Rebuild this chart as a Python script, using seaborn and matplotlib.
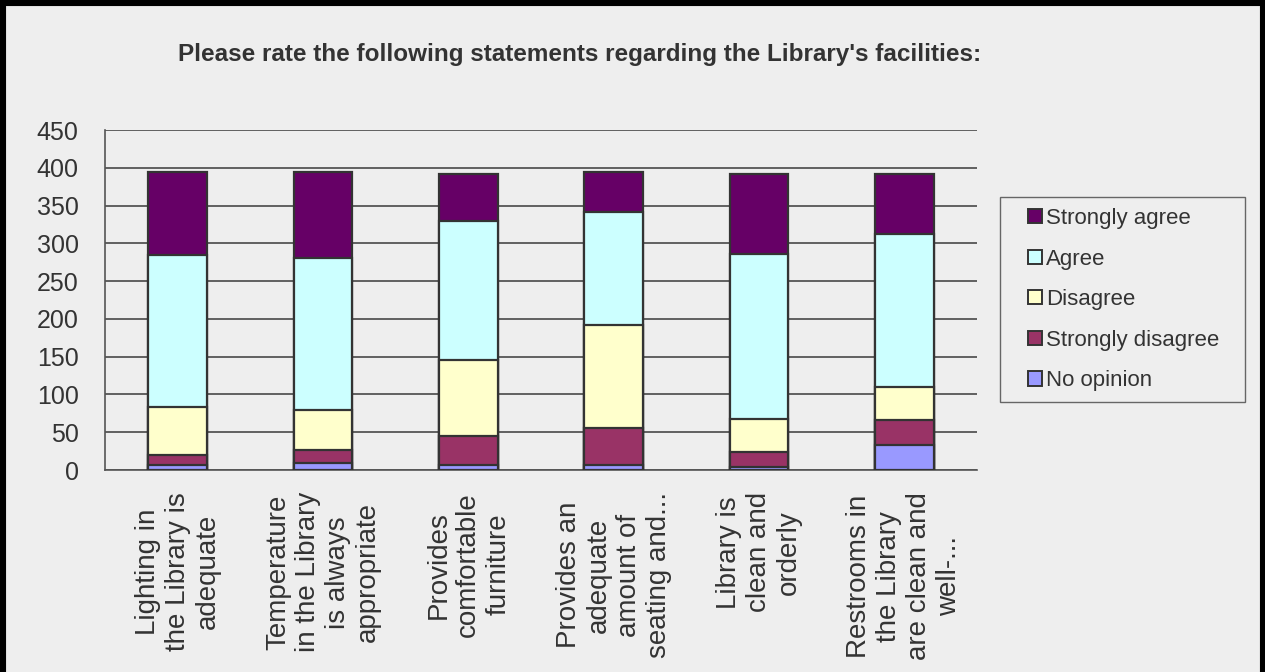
import matplotlib
matplotlib.use("Agg")
import matplotlib.pyplot as plt
import seaborn as sns
import numpy as np
import pandas as pd
from matplotlib.patches import Patch, Rectangle
from matplotlib.lines import Line2D
from matplotlib.legend_handler import HandlerPatch

categories = [
    "Lighting in\nthe Library is\nadequate",
    "Temperature\nin the Library\nis always\nappropriate",
    "Provides\ncomfortable\nfurniture",
    "Provides an\nadequate\namount of\nseating and...",
    "Library is\nclean and\norderly",
    "Restrooms in\nthe Library\nare clean and\nwell-...",
]
no_opinion = [6, 9, 7, 6, 4, 33]
strongly_disagree = [14, 18, 38, 50, 20, 33]
disagree = [63, 53, 100, 136, 44, 44]
agree = [201, 201, 185, 150, 218, 203]
strongly_agree = [111, 113, 62, 52, 106, 79]

series_names = ["No opinion", "Strongly disagree", "Disagree", "Agree", "Strongly agree"]
series_values = [no_opinion, strongly_disagree, disagree, agree, strongly_agree]
colors = ["#9999FF", "#993366", "#FFFFCC", "#CCFFFF", "#660066"]
yticks = [0, 50, 100, 150, 200, 250, 300, 350, 400, 450]

sns.set_style("white")
plt.rcParams["font.family"] = ["Liberation Sans", "DejaVu Sans"]

BG = "#EEEEEE"
TXT = "#333333"
fig = plt.figure(figsize=(12.65, 6.72), dpi=100, facecolor=BG)
ax = fig.add_axes([105 / 1265, 1 - 470 / 672, (977 - 105) / 1265, 340 / 672])
ax.set_facecolor(BG)

cum = np.cumsum(np.array(series_values), axis=0)
# draw from the top layer down so lower layers overlay (stacked look)
for i in range(len(series_names) - 1, -1, -1):
    df = pd.DataFrame({"cat": categories, "val": cum[i]})
    sns.barplot(data=df, x="cat", y="val", color=colors[i], saturation=1,
                width=0.405, edgecolor="#333333", linewidth=1.6, ax=ax,
                order=categories, zorder=3)

ax.set_ylim(0, 450)
ax.set_xlim(-0.5, len(categories) - 0.5)
ax.set_yticks(yticks)
ax.set_yticklabels([str(v) for v in yticks], fontsize=18, color=TXT)
ax.yaxis.grid(True, color="#555555", linewidth=1.3, zorder=0)
ax.set_axisbelow(True)
ax.set_xlabel("")
ax.set_ylabel("")

ax.set_xticks(range(len(categories)))
ax.set_xticklabels(categories, rotation=90, fontsize=20, ha="center", va="top",
                   multialignment="center", color=TXT, linespacing=1.2)
ax.tick_params(axis="x", which="major", length=0, pad=16)
ax.set_xticks(np.arange(-0.5, len(categories), 1.0), minor=True)
ax.tick_params(axis="x", which="minor", length=6, width=1, color="#555555", direction="out")
ax.tick_params(axis="y", length=7, width=1, color="#555555", direction="out", pad=12)

for s in ["top", "right"]:
    ax.spines[s].set_visible(False)
for s in ["left", "bottom"]:
    ax.spines[s].set_color("#555555")
    ax.spines[s].set_linewidth(1.2)

fig.text(580 / 1265, 1 - 54 / 672,
         "Please rate the following statements regarding the Library's facilities:",
         ha="center", va="center", fontsize=17.5, fontweight="bold", color=TXT)


class SquareHandler(HandlerPatch):
    def create_artists(self, legend, orig_handle, xdescent, ydescent, width, height,
                       fontsize, trans):
        s = height
        p = Rectangle((width - s - xdescent, -ydescent), s, s)
        self.update_prop(p, orig_handle, legend)
        p.set_transform(trans)
        return [p]


handles = [Patch(facecolor=colors[i], edgecolor="#333333", linewidth=1.4, label=series_names[i])
           for i in range(len(series_names) - 1, -1, -1)]
leg_top = 1 - 197 / 672
leg = fig.legend(handles=handles, loc="upper left",
                 bbox_to_anchor=(1000 / 1265, leg_top - 0.01, 245 / 1265, 0.01),
                 mode="expand",
                 handler_map={Patch: SquareHandler()},
                 fontsize=16, frameon=True, fancybox=False, framealpha=1,
                 facecolor=BG, edgecolor="#666666", handlelength=1.4, handleheight=0.6,
                 handletextpad=0.18, labelspacing=0.88, borderpad=0.5, borderaxespad=0)
leg.get_frame().set_linewidth(1.0)
for t in leg.get_texts():
    t.set_color(TXT)

for xs, ys in [([0, 0], [0, 1]), ([0, 1], [1, 1]), ([1, 1], [1, 0])]:
    fig.add_artist(Line2D(xs, ys, transform=fig.transFigure, color="black",
                          linewidth=8, solid_capstyle="projecting", zorder=10))

fig.savefig("out.png", dpi=100, facecolor=BG)
